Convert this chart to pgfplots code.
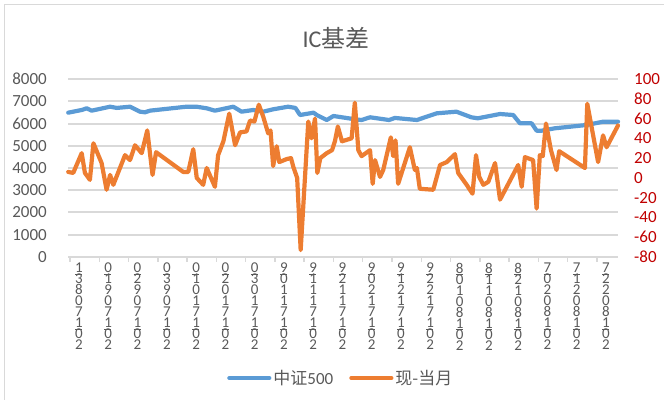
\documentclass[border=0pt]{standalone}
\usepackage{pgfplots}
\pgfplotsset{compat=1.18}
\usepackage{fontspec}
\setmainfont{Carlito}
\newfontfamily\cjk{Noto Sans CJK SC}
\definecolor{cblue}{HTML}{5B9BD5}
\definecolor{corange}{HTML}{ED7D31}
\definecolor{cgrid}{HTML}{D9D9D9}
\definecolor{ctext}{HTML}{595959}
\definecolor{cred}{HTML}{C00000}
\newcommand\stk{\rlap{\raisebox{9.6bp}{\rule{7bp}{0.7bp}}}}
\newcommand\vd[8]{\vbox{\fontsize{15bp}{11bp}\selectfont\lineskiplimit=-30bp\lineskip=0pt
 \hbox{#1}\hbox{\stk#2}\hbox{#3}\hbox{#4}\hbox{#5}\hbox{#6}\hbox{\stk#7}\hbox{#8}}}
\begin{document}
\begin{tikzpicture}
\useasboundingbox (0,0) rectangle (664bp,400bp);
\draw[cgrid, line width=1bp] (4bp,0) -- (4bp,395bp) -- (664bp,395bp);
\node[text=ctext, font=\fontsize{24bp}{28bp}\selectfont] at (336bp,362bp) {IC{\cjk 基差}};
\begin{axis}[
  at={(68bp,143bp)}, anchor=south west,
  scale only axis, width=550bp, height=178bp,
  xmin=-0.68, xmax=187.2, ymin=0, ymax=8000,
  axis line style={draw=none},
  xtick pos=bottom, ytick pos=left,
  xtick={0,10,...,180},
  xticklabels={\vd13807102,\vd01907102,\vd02907102,\vd03907102,\vd01017102,\vd02017102,\vd03017102,\vd90117102,\vd91117102,\vd92117102,\vd90217102,\vd91217102,\vd92217102,\vd80108102,\vd81108102,\vd82108102,\vd70208102,\vd71208102,\vd72208102},
  ytick={0,1000,...,8000},
  yticklabels={0,1000,2000,3000,4000,5000,6000,7000,8000},
  ymajorgrids, major grid style={cgrid, line width=2bp},
  tick align=outside, major tick length=5bp,
  x tick style={cgrid, line width=1.5bp},
  y tick style={draw=none},
  x tick label style={anchor=north, xshift=9bp, yshift=-1bp, inner sep=0pt, text=ctext},
  y tick label style={anchor=east, inner sep=0pt, xshift=-16bp, text=ctext, font=\fontsize{17bp}{20bp}\selectfont},
  clip=false,
]
\addplot[cblue, line width=4.2bp, line join=round, line cap=round] coordinates {
(-0.6,6486)(4.0,6607)(5.7,6683)(7.4,6577)(13.7,6755)(16,6700)(20.5,6755)(23.9,6531)(25.6,6503)(27.3,6577)(39.8,6755)(43.2,6755)(46.7,6683)(49.5,6577)(55.8,6755)(58.6,6531)(62.6,6607)(66.0,6531)(69.4,6638)(74.5,6755)(77,6700)(78.6,6382)(83.2,6486)(84.3,6382)(87.7,6157)(90,6337)(97.4,6189)(99.6,6157)(102.5,6279)(109,6157)(111,6250)(118.5,6157)(125.3,6458)(132,6531)(137.1,6279)(139.3,6234)(146.9,6427)(151.4,6382)(153.7,6009)(157.7,6009)(159.4,5677)(161.1,5677)(165.6,5784)(176.5,5933)(182.1,6081)(187.2,6081)
};
\end{axis}
\begin{axis}[
  at={(68bp,143bp)}, anchor=south west,
  scale only axis, width=550bp, height=178bp,
  xmin=-0.68, xmax=187.2, ymin=-80, ymax=100,
  hide x axis,
  axis y line*=right,
  y axis line style={draw=none},
  ytick={-80,-60,...,100},
  yticklabels={-80,-60,-40,-20,0,20,40,60,80,100},
  y tick style={draw=none},
  y tick label style={anchor=west, inner sep=0pt, xshift=16bp, text=cred, font=\fontsize{17bp}{20bp}\selectfont},
  clip=false,
  legend columns=2,
  legend style={at={(0.496,-0.68)}, anchor=center, draw=none, fill=none, font=\fontsize{17bp}{20bp}\selectfont, text=ctext, /tikz/every even column/.append style={column sep=14bp}, cells={anchor=west}},
  legend image code/.code={\draw[#1, line cap=round] (0bp,0bp) -- (40bp,0bp);},
]
\addlegendimage{cblue, line width=4.2bp}
\addlegendentry{{\cjk 中证}500}
\addplot[corange, line width=4.2bp, line join=round, line cap=round] coordinates {
(-0.6,6)(1.1,5)(4.0,25)(5.1,5)(6.8,-2)(8.0,35)(10.8,15)(12.5,-12)(13.7,3)(14.8,-7)(18.8,23)(20.5,18)(22.2,33)(24.5,25)(26.4,48)(28.2,3)(29.4,26)(38.7,6)(40.4,6)(42.1,29)(43.3,0)(45.5,-7)(46.7,10)(49.5,-9)(50.6,23)(52.4,37)(54.4,65)(56.4,33)(58.1,46)(60.3,47)(61.5,58)(63,57)(64.5,74)(66.0,62)(67.7,45)(68.5,48)(69.4,12)(70.6,32)(71.5,16)(74.0,19)(75.5,20)(76.3,11)(77.6,0)(78.8,-73)(81.4,57)(82.5,40)(83.7,60)(84.5,5)(85.5,20)(87.7,25)(89.5,28)(90.5,37)(91.5,52)(92.9,37)(96.2,40)(97.3,76)(98.5,28)(99.6,22)(102.5,28)(103.4,-6)(104.2,18)(105.9,1)(107.0,8)(109.6,41)(110.4,22)(111.2,38)(112.1,-6)(116.1,31)(117.8,8)(118.5,10)(119.5,-11)(124.1,-12)(126.4,13)(128.7,16)(131.5,24)(132.6,5)(135.5,-7)(137.5,-16)(138.7,23)(139.8,1)(141.2,-7)(142.9,-4)(145.2,15)(146.9,-22)(153.1,13)(154.3,-9)(155.4,21)(158.2,18)(159.4,-31)(160.5,23)(161.5,22)(162.6,55)(164.3,28)(166.2,8)(167.1,27)(175.9,10)(176.7,75)(180.4,16)(182.1,43)(183.3,31)(187.2,53)
};
\addlegendentry{{\cjk 现-当月}}
\end{axis}
\end{tikzpicture}
\end{document}
